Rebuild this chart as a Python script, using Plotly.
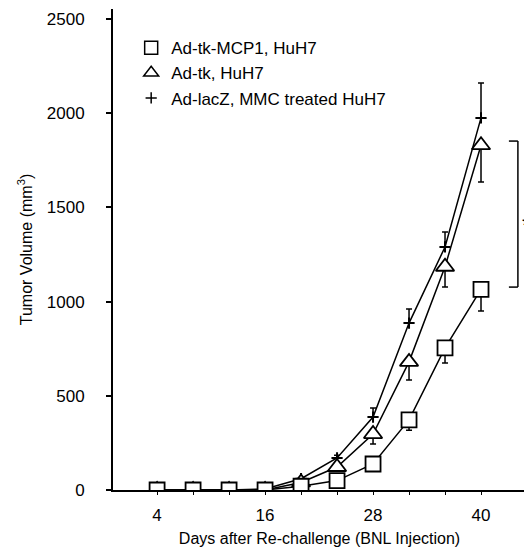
import plotly.graph_objects as go

days = [4, 8, 12, 16, 20, 24, 28, 32, 36, 40]
mcp1 = [0, 0, 0, 0, 20, 50, 138, 372, 754, 1065]
mcp1_err = [0, 0, 0, 0, 0, 0, 20, 55, 80, 115]
tk = [0, 0, 0, 0, 40, 122, 297, 680, 1185, 1830]
tk_err = [0, 0, 0, 0, 0, 20, 53, 96, 108, 195]
lacz = [0, 0, 0, 5, 60, 170, 387, 886, 1290, 1975]
lacz_err = [0, 0, 0, 0, 0, 15, 48, 75, 80, 185]
names = ["Ad-tk-MCP1, HuH7", "Ad-tk, HuH7", "Ad-lacZ, MMC treated HuH7"]
xticks = [4, 16, 28, 40]
yticks = [0, 500, 1000, 1500, 2000, 2500]
bracket_top, bracket_bottom = 1852, 1077
x_range = [-0.9, 45]
star_day = 45.1

FONT = "Liberation Sans, Arial, sans-serif"
FS = 17
FT = 16
fig = go.Figure()

fig.add_trace(go.Scatter(x=days, y=lacz, mode="lines+markers", showlegend=False,
                         line=dict(color="black", width=1.5),
                         marker=dict(symbol="cross-thin-open", size=8, line=dict(color="black", width=2)),
                         error_y=dict(type="data", symmetric=False, array=lacz_err, arrayminus=[0]*len(days),
                                      color="black", thickness=1.5, width=3)))
fig.add_trace(go.Scatter(x=days, y=tk, mode="lines+markers", showlegend=False,
                         line=dict(color="black", width=1.5),
                         marker=dict(symbol="triangle-up", size=16, color="white", line=dict(color="black", width=1.8)),
                         error_y=dict(type="data", symmetric=False, array=[0]*len(days), arrayminus=tk_err,
                                      color="black", thickness=1.5, width=3)))
fig.add_trace(go.Scatter(x=days, y=mcp1, mode="lines+markers", showlegend=False,
                         line=dict(color="black", width=1.5),
                         marker=dict(symbol="square", size=15, color="white", line=dict(color="black", width=1.8)),
                         error_y=dict(type="data", symmetric=False, array=[0]*len(days), arrayminus=mcp1_err,
                                      color="black", thickness=1.5, width=3)))

leg_markers = [
    dict(symbol="square-open", size=13, color="black", line=dict(width=1.5)),
    dict(symbol="triangle-up-open", size=13, color="black", line=dict(width=1.5)),
    dict(symbol="cross-thin-open", size=8, color="black", line=dict(width=1.5)),
]
for n, m in zip(names, leg_markers):
    fig.add_trace(go.Scatter(x=[None], y=[None], mode="markers", name=n, marker=m))

bl = dict(color="black", width=1.5)
fig.add_shape(type="line", xref="x", yref="y", x0=43.1, x1=44.1, y0=bracket_top, y1=bracket_top, line=bl)
fig.add_shape(type="line", xref="x", yref="y", x0=44.1, x1=44.1, y0=bracket_top, y1=bracket_bottom, line=bl)
fig.add_shape(type="line", xref="x", yref="y", x0=43.1, x1=44.1, y0=bracket_bottom, y1=bracket_bottom, line=bl)
fig.add_annotation(x=(star_day - x_range[0]) / (x_range[1] - x_range[0]),
                   y=(bracket_top + bracket_bottom) / 2 - 60, xref="paper", yref="y", text="*",
                   xanchor="center", yanchor="middle",
                   showarrow=False, font=dict(size=24, color="black", family=FONT))

# page body has an 8px default margin on every side; size the figure so the page
# does not overflow the 532x555 window (no scrollbar)
fig.update_layout(
    width=524, height=539,
    margin=dict(l=105, r=6, t=1, b=57),
    paper_bgcolor="white", plot_bgcolor="white",
    font=dict(family=FONT, size=FS, color="black"),
    legend=dict(x=0.044, y=0.956, xanchor="left", yanchor="top", bgcolor="rgba(0,0,0,0)",
                font=dict(size=FS), tracegroupgap=0, itemwidth=30),
    xaxis=dict(range=x_range, tickvals=xticks, ticks="outside", ticklen=3, tickwidth=1,
               tickcolor="black", ticklabelstandoff=6,
               minor=dict(tickvals=days, ticks="outside", ticklen=3, tickcolor="black"),
               showgrid=False, zeroline=False, automargin=False,
               showline=True, linecolor="black", linewidth=2,
               title=dict(text="Days after Re-challenge (BNL Injection)", standoff=14,
                          font=dict(size=FT)), tickfont=dict(size=FS)),
    yaxis=dict(range=[0, 2553], tickvals=yticks, ticks="outside", ticklen=5, tickwidth=1.5,
               tickcolor="black", ticklabelstandoff=18,
               showgrid=False, zeroline=False, automargin=False,
               showline=True, linecolor="black", linewidth=2,
               title=dict(text="Tumor Volume (mm<sup>3</sup>)", standoff=10, font=dict(size=FT)),
               tickfont=dict(size=FS)),
)

fig.write_html("out.html")
